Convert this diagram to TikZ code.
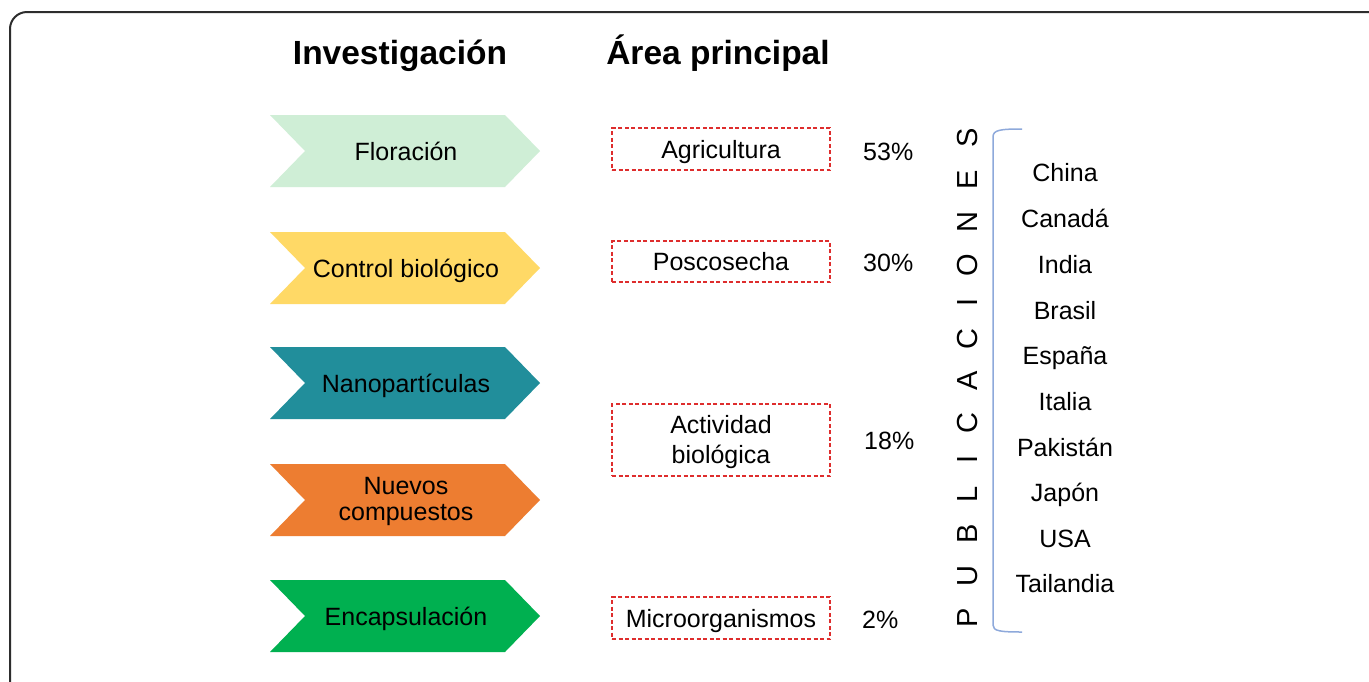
\documentclass[tikz,border=0pt]{standalone}
\usepackage{fontspec}
\setmainfont{Liberation Sans}
\definecolor{cFlor}{RGB}{207,238,214}
\definecolor{cCtrl}{RGB}{255,217,102}
\definecolor{cNano}{RGB}{33,142,155}
\definecolor{cNuev}{RGB}{237,125,49}
\definecolor{cEnc}{RGB}{0,176,80}
\definecolor{cDash}{RGB}{222,45,45}
\definecolor{cBrace}{RGB}{142,169,219}
\definecolor{cFrame}{RGB}{45,45,45}
\tikzset{
  body/.style={font=\fontsize{25}{25}\selectfont, inner sep=0pt},
  one/.style={body, text height=18pt, text depth=0pt},
  head/.style={font=\fontsize{33.5}{35}\selectfont\bfseries, inner sep=0pt, text height=24pt, text depth=0pt},
  areabox/.style={draw=cDash, line width=1.3pt, dash pattern=on 4pt off 2.5pt, minimum width=218pt, inner sep=0pt, align=center},
  pct/.style={one, anchor=west},
  country/.style={one},
  bracestyle/.style={draw=cBrace, line width=1.5pt}
}
\begin{document}
\begin{tikzpicture}[x=1pt,y=-1pt]
\useasboundingbox (0,0) rectangle (1369,681);
\clip (0,0) rectangle (1369,681);
\fill[white] (0,0) rectangle (1369,681);
\draw[cFrame, line width=2pt, rounded corners=17pt] (10,12) rectangle (1395,700);

% headers
\node[head] (hinv) at (400,52) {Investigación};
\node[head] (harea) at (718,52) {Área principal};

% chevrons
\foreach \yc/\nm/\col/\txt in {151/flo/cFlor/{Floración}, 268/con/cCtrl/{Control biológico}, 383/nan/cNano/{Nanopartículas}, 616/enc/cEnc/{Encapsulación}} {
  \fill[\col] (270,\yc-36) -- (505,\yc-36) -- (540,\yc) -- (505,\yc+36) -- (270,\yc+36) -- (305,\yc) -- cycle;
  \node[one] (\nm) at (406,\yc) {\txt};
}
\fill[cNuev] (270,500-36) -- (505,500-36) -- (540,500) -- (505,500+36) -- (270,500+36) -- (305,500) -- cycle;
\node[body, font=\fontsize{25}{26}\selectfont, align=center] (nue) at (406,501.5) {Nuevos\\compuestos};

% area boxes
\node[areabox, one, minimum height=42pt] (agr) at (721,149) {Agricultura};
\node[areabox, one, minimum height=41pt] (pos) at (721,261.5) {Poscosecha};
\node[areabox, body, minimum height=72pt] (act) at (721,440) {};
\node[body, font=\fontsize{25}{30}\selectfont, align=center] (acttxt) at (721,442) {Actividad\\biológica};
\node[areabox, one, minimum height=42pt] (mic) at (721,618) {Microorganismos};

% percentages
\node[pct] (p53) at (863,151) {53\%};
\node[pct] (p30) at (863,262) {30\%};
\node[pct] (p18) at (864,440) {18\%};
\node[pct] (p2) at (862,619) {2\%};

% vertical title
\node[rotate=90, font=\fontsize{29}{29}\selectfont, inner sep=0pt, text height=21pt, text depth=0pt] (pub) at (967,378)
  {\spaceskip=22pt P U B L I C A C I O N E S};

% brace
\draw[bracestyle] (1022,129) .. controls (1000,129) and (993,130) .. (993,137) -- (993,625) .. controls (993,631) and (1000,632) .. (1022,632);

% countries
\foreach \yy/\nm/\txt in {172/chn/China, 218/can/Canadá, 264/ind/India, 310/bra/Brasil, 355/esp/España, 401/ita/Italia, 447/pak/Pakistán, 492/jap/Japón, 538/usa/USA, 583/tai/Tailandia} {
  \node[country] (\nm) at (1065,\yy) {\txt};
}
\end{tikzpicture}
\end{document}
